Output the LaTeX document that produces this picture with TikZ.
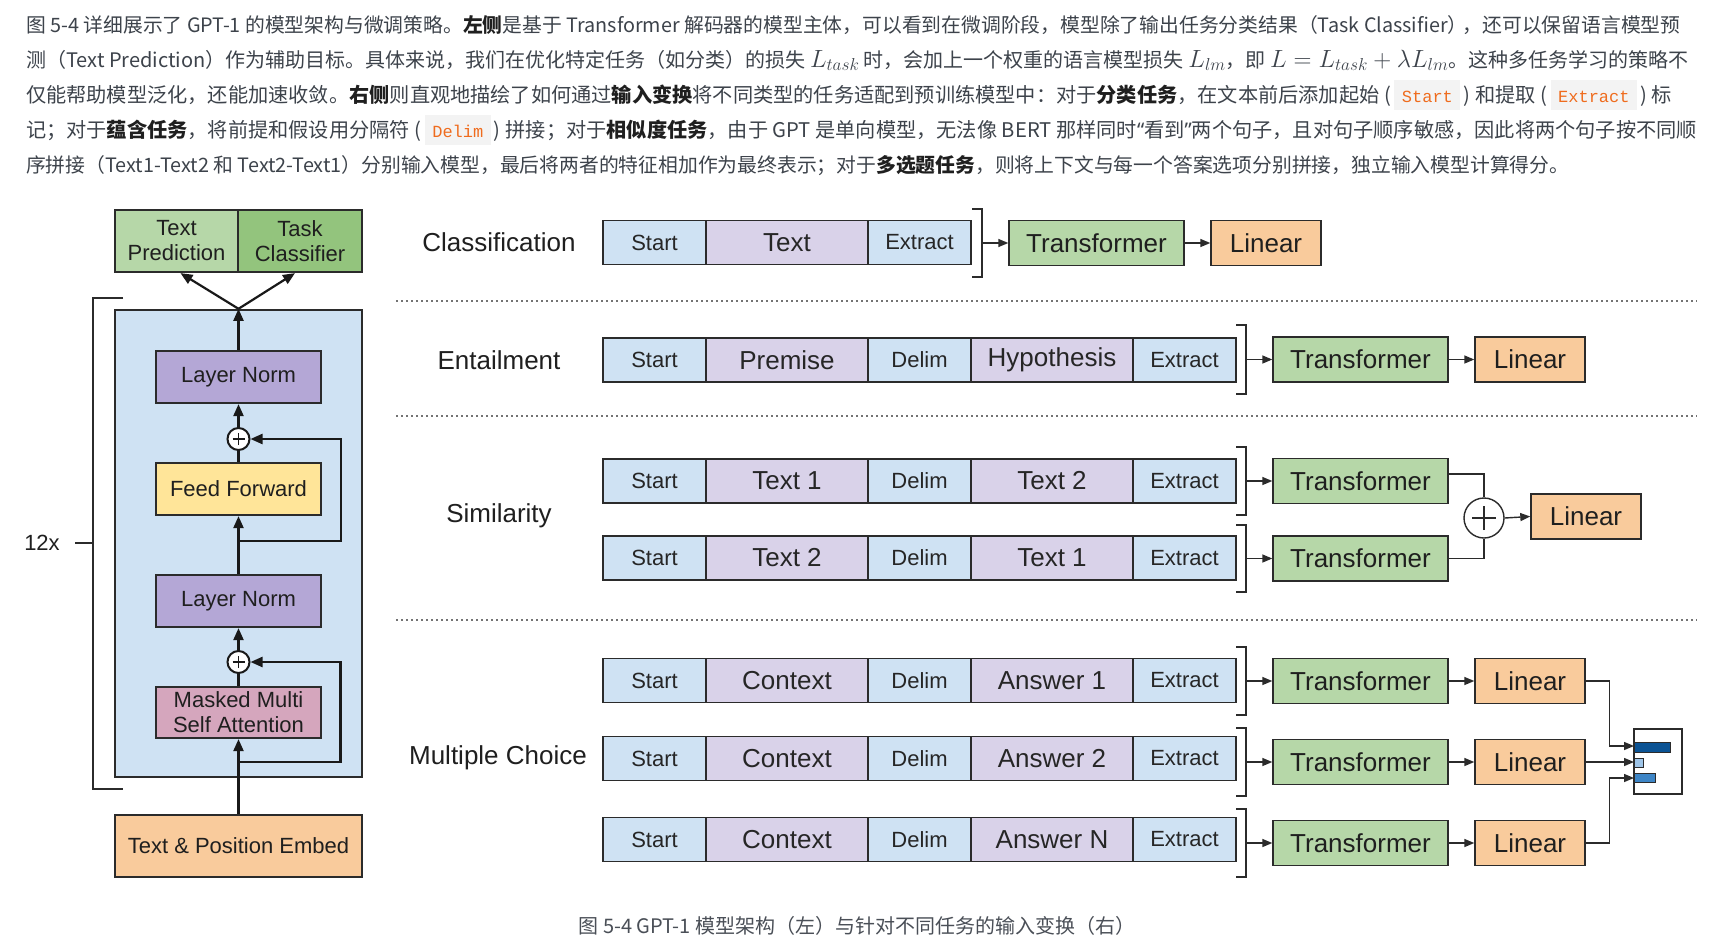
\documentclass[tikz,border=0pt]{standalone}
\usepackage{fontspec}
\setmainfont{Liberation Sans}
\newfontfamily\cjk{Noto Sans CJK SC}
\newfontfamily\qfont{Noto Sans}
\newfontfamily\codefont{Liberation Mono}
\usetikzlibrary{arrows.meta,calc}
\definecolor{tokblue}{HTML}{CFE2F3}
\definecolor{tokpurp}{HTML}{D9D2E9}
\definecolor{trgreen}{HTML}{B6D7A8}
\definecolor{tcgreen}{HTML}{93C47D}
\definecolor{linorange}{HTML}{F9CB9C}
\definecolor{lnpurple}{HTML}{B4A7D6}
\definecolor{ffyellow}{HTML}{FFE599}
\definecolor{mmpink}{HTML}{D5A6BD}
\definecolor{bardark}{HTML}{0B5394}
\definecolor{barlight}{HTML}{9FC5E8}
\definecolor{barmid}{HTML}{3D85C6}
\definecolor{linecol}{HTML}{2B2B2B}
\definecolor{paratext}{HTML}{3D434B}
\definecolor{codefg}{HTML}{EF6C1E}
\definecolor{codebg}{HTML}{F3F3F3}
\definecolor{capgray}{HTML}{4A4F57}
\newcommand\bd[1]{{\bfseries\color{black!88}#1}}
\newcommand\mth[1]{{\fontsize{24}{28}\selectfont$#1$}}
\newcommand\myLq{{\qfont “}}
\newcommand\myRq{{\qfont ”}}
\newcommand\code[1]{\hspace{5pt}(\hspace{3pt}{\setlength\fboxsep{0pt}\colorbox{codebg}{\rule[-8pt]{0pt}{30pt}\hspace{7.5pt}{\codefont\fontsize{17}{20}\selectfont\color{codefg}#1}\hspace{7.5pt}}}\hspace{3pt})\hspace{5pt}}
\newcommand\tokfive[4]{%
 \node[tokS] (#1a) at (654.5,#2) {Start};
 \node[tokC] (#1b) at (787,#2) {#3};
 \node[tokS] (#1c) at (919.5,#2) {Delim};
 \node[tokC] (#1d) at (1052,#2) {#4};
 \node[tokS] (#1e) at (1184.5,#2) {Extract};}
\newcommand\brk[4]{%
 \draw[brkline] (#2-10,#3) -- (#2,#3) -- (#2,#4) -- (#2-10,#4);
 \coordinate (#1) at (#2,{(#3+#4)/2});}
\tikzset{
 para/.style={anchor=base west, inner sep=0pt, font=\cjk\fontsize{19.8}{24}\selectfont, text=paratext},
 lbox/.style={draw=linecol, line width=2.2pt, inner sep=0pt, align=center, font=\fontsize{22}{25}\selectfont, text=black!88},
 tokS/.style={draw=linecol, line width=1.4pt, fill=tokblue, minimum width=103pt, minimum height=44pt, inner sep=0pt, font=\fontsize{22}{24}\selectfont, text=black!85},
 tokC/.style={draw=linecol, line width=1.4pt, fill=tokpurp, minimum width=162pt, minimum height=44pt, inner sep=0pt, font=\fontsize{26}{28}\selectfont, text=black!85},
 trbox/.style={draw=linecol, line width=1.4pt, fill=trgreen, minimum width=175pt, minimum height=45pt, inner sep=0pt, font=\fontsize{26}{28}\selectfont, text=black!88},
 linbox/.style={draw=linecol, line width=1.4pt, fill=linorange, minimum width=110pt, minimum height=45pt, inner sep=0pt, font=\fontsize{26}{28}\selectfont, text=black!88},
 seclabel/.style={inner sep=0pt, font=\fontsize{26}{28}\selectfont, text=black!88},
 brkline/.style={draw=linecol, line width=1.4pt},
 arr/.style={draw=linecol, line width=1.4pt, -{Triangle[length=10pt,width=8pt]}},
 rline/.style={draw=linecol, line width=1.4pt},
 larr/.style={draw=black!90, line width=2.2pt, -{Triangle[length=12pt,width=10pt]}},
 lline/.style={draw=black!90, line width=2.2pt},
 plusnode/.style={circle, draw=black!90, line width=2pt, fill=white, minimum size=22pt, inner sep=0pt,
   path picture={\draw[line width=1.8pt] ([xshift=-6pt]path picture bounding box.center) -- ([xshift=6pt]path picture bounding box.center);
                 \draw[line width=1.8pt] ([yshift=-6pt]path picture bounding box.center) -- ([yshift=6pt]path picture bounding box.center);}},
 bigplus/.style={circle, draw=linecol, line width=1.4pt, fill=white, minimum size=40pt, inner sep=0pt,
   path picture={\draw[line width=2.6pt] ([xshift=-12pt]path picture bounding box.center) -- ([xshift=12pt]path picture bounding box.center);
                 \draw[line width=2.6pt] ([yshift=-12pt]path picture bounding box.center) -- ([yshift=12pt]path picture bounding box.center);}},
 divider/.style={draw=black!55, line width=1.5pt, dash pattern=on 1.5pt off 3.5pt},
}
\begin{document}
\begin{tikzpicture}[x=1pt,y=-1pt]
\fill[white] (0,0) rectangle (1716,951);
\useasboundingbox (0,0) rectangle (1716,951);

% ---------- paragraph ----------
\node[para] (p1) at (26,32) {图 5-4 详细展示了 GPT-1 的模型架构与微调策略。\bd{左侧}是基于 Transformer 解码器的模型主体，可以看到在微调阶段，模型除了输出任务分类结果（Task Classifier）\kern-5pt，还可以保留语言模型预};
\node[para, font=\cjk\fontsize{20}{24}\selectfont] (p2) at (26,67) {测（Text Prediction）作为辅助目标。具体来说，我们在优化特定任务（如分类）的损失 \mth{L_{task}} 时，会加上一个权重的语言模型损失 \mth{L_{lm}}，即 \mth{L = L_{task} + \lambda L_{lm}}。这种多任务学习的策略不};
\node[para, font=\cjk\fontsize{20.2}{24}\selectfont] (p3) at (26,102) {仅能帮助模型泛化，还能加速收敛。\bd{右侧}则直观地描绘了如何通过\bd{输入变换}将不同类型的任务适配到预训练模型中：对于\bd{分类任务}，在文本前后添加起始\code{Start}和提取\code{Extract}标};
\node[para, font=\cjk\fontsize{20.2}{24}\selectfont] (p4) at (26,137) {记；对于\bd{蕴含任务}，将前提和假设用分隔符\code{Delim}拼接；对于\bd{相似度任务}，由于 GPT 是单向模型，无法像 BERT 那样同时\myLq 看到\myRq 两个句子，且对句子顺序敏感，因此将两个句子按不同顺};
\node[para] (p5) at (26,172) {序拼接（Text1-Text2 和 Text2-Text1）分别输入模型，最后将两者的特征相加作为最终表示；对于\bd{多选题任务}，则将上下文与每一个答案选项分别拼接，独立输入模型计算得分。};

% ---------- left: GPT-1 architecture ----------
\node[lbox, fill=tokblue, minimum width=247pt, minimum height=467pt, line width=2.4pt] (big) at (238.5,543.5) {};
\node[lbox, fill=trgreen, minimum width=123pt, minimum height=62pt] (tp) at (176.5,241) {Text\\Prediction};
\node[lbox, fill=tcgreen, minimum width=124pt, minimum height=62pt] (tc) at (300,241) {Task\\Classifier};
\node[lbox, fill=lnpurple, minimum width=165pt, minimum height=52pt] (ln1) at (238.5,377) {Layer Norm};
\node[plusnode] (plus1) at (238.5,439) {};
\node[lbox, fill=ffyellow, minimum width=165pt, minimum height=52pt] (ff) at (238.5,489) {Feed Forward};
\node[lbox, fill=lnpurple, minimum width=165pt, minimum height=52pt] (ln2) at (238.5,601) {Layer Norm};
\node[plusnode] (plus2) at (238.5,662) {};
\node[lbox, fill=mmpink, minimum width=165pt, minimum height=51pt] (mm) at (238.5,712.5) {Masked Multi\\Self Attention};
\node[lbox, fill=linorange, minimum width=247pt, minimum height=62pt] (tpe) at (238.5,846) {Text \& Position Embed};

\coordinate (r1) at (238.5,541);
\coordinate (r2) at (238.5,762);
\draw[larr] (tpe.north) -- (mm.south);
\draw[lline] (mm.north) -- (plus2.south);
\draw[larr] (plus2.north) -- (ln2.south);
\draw[larr] (ln2.north) -- (ff.south);
\draw[lline] (ff.north) -- (plus1.south);
\draw[larr] (plus1.north) -- (ln1.south);
\draw[larr] (ln1.north) -- (big.north);
\draw[larr] (r1) -- ++(102.5,0) |- (plus1.east);
\draw[larr] (r2) -- ++(102,0) |- (plus2.east);
\draw[larr] (big.north) -- ([xshift=4pt]tp.south);
\draw[larr] (big.north) -- ([xshift=-5pt]tc.south);

% 12x bracket
\draw[brkline] (123,298) -- (93,298) -- (93,789) -- (123,789);
\coordinate (bmid) at (93,543);
\node[inner sep=0pt, font=\fontsize{22}{24}\selectfont, text=black!88] (twelve) at (42,543) {12x};
\draw[brkline] (bmid) -- ++(-18,0);

% ---------- dividers ----------
\draw[divider] (396,301) -- (1697,301);
\draw[divider] (396,416) -- (1697,416);
\draw[divider] (396,620) -- (1697,620);

% ---------- Classification ----------
\node[seclabel] (lcls) at (499,242) {Classification};
\node[tokS] (clsa) at (654.5,242.5) {Start};
\node[tokC] (clsb) at (787,242.5) {Text};
\node[tokS] (clsc) at (919.5,242.5) {Extract};
\brk{bcls}{982}{209}{277}
\node[trbox] (clsT) at (1096.5,243) {Transformer};
\node[linbox] (clsL) at (1266,243) {Linear};
\draw[arr] (bcls) -- (clsT.west);
\draw[arr] (clsT.east) -- (clsL.west);

% ---------- Entailment ----------
\node[seclabel] (lent) at (499,360) {Entailment};
\tokfive{ent}{360}{Premise}{Hypothesis}
\brk{bent}{1246}{325}{394}
\node[trbox] (entT) at (1360.5,359.5) {Transformer};
\node[linbox] (entL) at (1530,359.5) {Linear};
\draw[arr] (bent) -- (entT.west);
\draw[arr] (entT.east) -- (entL.west);

% ---------- Similarity ----------
\node[seclabel] (lsim) at (499,516) {Similarity};
\tokfive{simA}{481}{Text 1}{Text 2}
\tokfive{simB}{558}{Text 2}{Text 1}
\brk{bsimA}{1246}{447}{515}
\brk{bsimB}{1246}{525}{592}
\node[trbox] (simAT) at (1360.5,481) {Transformer};
\node[trbox] (simBT) at (1360.5,558.5) {Transformer};
\draw[arr] (bsimA) -- (simAT.west);
\draw[arr] (bsimB) -- (simBT.west);
\node[bigplus] (splus) at (1484,518) {};
\node[linbox] (simL) at (1586,516.5) {Linear};
\draw[rline] ([yshift=7pt]simAT.east) -| (splus.north);
\draw[rline] (simBT.east) -| (splus.south);
\draw[arr] (splus.east) -- (simL.west);

% ---------- Multiple Choice ----------
\node[seclabel] (lmc) at (498,758) {Multiple Choice};
\tokfive{mcA}{680.5}{Context}{Answer 1}
\tokfive{mcB}{758.5}{Context}{Answer 2}
\tokfive{mcC}{839.5}{Context}{Answer N}
\brk{bmcA}{1246}{647}{715}
\brk{bmcB}{1246}{728}{796}
\brk{bmcC}{1246}{809}{877}
\node[trbox] (mcAT) at (1360.5,681) {Transformer};
\node[trbox] (mcBT) at (1360.5,762) {Transformer};
\node[trbox] (mcCT) at (1360.5,843) {Transformer};
\node[linbox] (mcAL) at (1530,681) {Linear};
\node[linbox] (mcBL) at (1530,762) {Linear};
\node[linbox] (mcCL) at (1530,843) {Linear};
\draw[arr] (bmcA) -- (mcAT.west);
\draw[arr] (bmcB) -- (mcBT.west);
\draw[arr] (bmcC) -- (mcCT.west);
\draw[arr] (mcAT.east) -- (mcAL.west);
\draw[arr] (mcBT.east) -- (mcBL.west);
\draw[arr] (mcCT.east) -- (mcCL.west);

% result box with bars
\node[draw=linecol, line width=1.3pt, minimum width=48pt, minimum height=65pt, inner sep=0pt] (res) at (1658,761.5) {};
\fill[bardark, draw=linecol, line width=0.8pt] (1634,742) rectangle (1670,752);
\fill[barlight, draw=linecol, line width=0.8pt] (1634,758) rectangle (1643,767);
\fill[barmid, draw=linecol, line width=0.8pt] (1634,773) rectangle (1655,782);
\coordinate (inA) at (1634,746);
\coordinate (inB) at (1634,762);
\coordinate (inC) at (1634,778);
\draw[arr] (mcAL.east) -- ++(24,0) |- (inA);
\draw[arr] (mcBL.east) -- (inB);
\draw[arr] (mcCL.east) -- ++(24,0) |- (inC);

% ---------- caption ----------
\node[inner sep=0pt, font=\cjk\fontsize{20}{22}\selectfont, text=capgray] (cap) at (857,926) {图 5-4 GPT-1 模型架构（左）与针对不同任务的输入变换（右）};
\end{tikzpicture}
\end{document}
